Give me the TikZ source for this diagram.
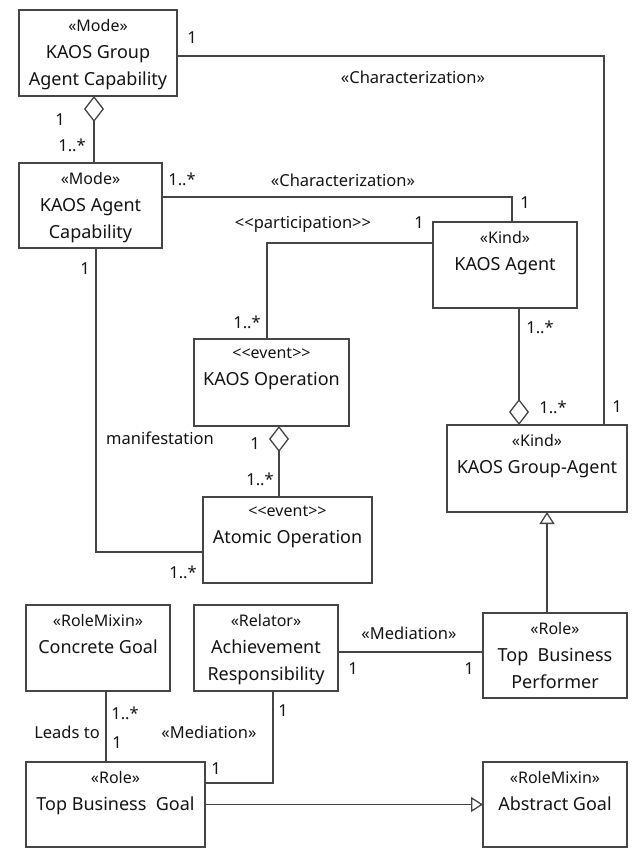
\documentclass[tikz,border=0pt]{standalone}
\usepackage{fontspec}
\setmainfont{Noto Sans}
\usetikzlibrary{arrows.meta}
\definecolor{ink}{HTML}{141414}
\definecolor{wire}{HTML}{454545}
\newcommand{\stereo}[1]{{\fontsize{16}{27}\selectfont #1}}

\begin{document}
\begin{tikzpicture}[x=1pt,y=-1pt,
  cls/.style={draw=wire, line width=1.3pt, fill=white, inner sep=0pt, outer sep=0pt},
  txt/.style={anchor=north, align=center, inner sep=0pt, text=ink, font=\fontsize{18}{27}\selectfont},
  lbl/.style={inner sep=0pt, text=ink, font=\fontsize{16.5}{19}\selectfont},
  wireline/.style={draw=wire, line width=1.3pt},
  aggstart/.style={arrows={Diamond[open, length=26pt, width=20pt]-}},
  aggend/.style={arrows={-Diamond[open, length=26pt, width=20pt]}},
  gen/.style={arrows={-Triangle[open, length=12pt, width=15pt]}}
]
\useasboundingbox (0,0) rectangle (643,858);

% classes
\node[cls, minimum width=158pt, minimum height=86pt] (gac) at (98,53) {};
\node[cls, minimum width=143pt, minimum height=85pt] (ac) at (90.5,205.5) {};
\node[cls, minimum width=144pt, minimum height=86pt] (ka) at (505,265) {};
\node[cls, minimum width=155pt, minimum height=87pt] (ko) at (271.5,382.5) {};
\node[cls, minimum width=169pt, minimum height=86pt] (ao) at (287.5,540) {};
\node[cls, minimum width=180pt, minimum height=87pt] (kga) at (537,468.5) {};
\node[cls, minimum width=144pt, minimum height=85pt] (tbp) at (555,655.5) {};
\node[cls, minimum width=144pt, minimum height=86pt] (cg) at (98,648) {};
\node[cls, minimum width=144pt, minimum height=86pt] (ar) at (266,648) {};
\node[cls, minimum width=179pt, minimum height=85pt] (tbg) at (115.5,804.5) {};
\node[cls, minimum width=144pt, minimum height=85pt] (abg) at (555,804.5) {};

% class texts
\node[txt] (gacT) at ([yshift=-9pt]gac.north) {\stereo{«Mode»}\\KAOS Group\\Agent Capability};
\node[txt] (acT) at ([yshift=-9pt]ac.north) {\stereo{«Mode»}\\KAOS Agent\\Capability};
\node[txt] (kaT) at ([yshift=-9pt]ka.north) {\stereo{«Kind»}\\KAOS Agent};
\node[txt] (koT) at ([yshift=-9pt]ko.north) {\stereo{<\kern0pt<event>\kern0pt>}\\KAOS Operation};
\node[txt] (aoT) at ([yshift=-9pt]ao.north) {\stereo{<\kern0pt<event>\kern0pt>}\\Atomic Operation};
\node[txt] (kgaT) at ([yshift=-9pt]kga.north) {\stereo{«Kind»}\\KAOS Group-Agent};
\node[txt] (tbpT) at ([yshift=-9pt]tbp.north) {\stereo{«Role»}\\Top~~Business\\Performer};
\node[txt] (cgT) at ([yshift=-9pt]cg.north) {\stereo{«RoleMixin»}\\Concrete Goal};
\node[txt] (arT) at ([yshift=-9pt]ar.north) {\stereo{«Relator»}\\Achievement\\Responsibility};
\node[txt] (tbgT) at ([yshift=-9pt]tbg.north) {\stereo{«Role»}\\Top Business~~Goal};
\node[txt] (abgT) at ([yshift=-9pt]abg.north) {\stereo{«RoleMixin»}\\Abstract Goal};

% connectors
\draw[wireline] ([yshift=-3pt]gac.east) -| ([xshift=67pt]kga.north);
\draw[wireline, aggstart] ([xshift=-4pt]gac.south) -- ([xshift=-4pt]gac.south |- ac.north);
\draw[wireline] ([yshift=8.5pt]ac.east) -| ([xshift=7pt]ka.north);
\draw[wireline] ([yshift=22pt]ka.west) -| ([xshift=-4.5pt]ko.north);
\draw[wireline, aggstart] ([xshift=7.5pt]ko.south) -- ([xshift=7.5pt]ko.south |- ao.north);
\draw[wireline] ([xshift=5.5pt]ac.south) |- ([yshift=-12pt]ao.west);
\draw[wireline, aggend] ([xshift=14pt]ka.south) -- ([xshift=14pt]ka.south |- kga.north);
\draw[wireline, gen] ([xshift=-8pt]tbp.north) -- ([xshift=-8pt]tbp.north |- kga.south);
\draw[wireline] ([yshift=-4pt]ar.east) -- ([yshift=-4pt]ar.east -| tbp.west);
\draw[wireline] ([xshift=8pt]cg.south) -- ([xshift=8pt]cg.south |- tbg.north);
\draw[wireline] ([xshift=7pt]ar.south) |- ([yshift=21.5pt]tbg.east);
\draw[wireline, gen] (tbg.east) -- (abg.west);

% connector labels
\node[lbl] (l1) at (192,38) {1};
\node[lbl] (l2) at (413,77) {«Characterization»};
\node[lbl] (l3) at (60,120) {1};
\node[lbl] (l4) at (72,145) {1..*};
\node[lbl] (l5) at (182,179) {1..*};
\node[lbl] (l6) at (343,180) {«Characterization»};
\node[lbl] (l7) at (525,203) {1};
\node[lbl] (l8) at (303,224) {<\kern0pt<participation>\kern0pt>};
\node[lbl] (l9) at (419,223) {1};
\node[lbl] (l10) at (85,269) {1};
\node[lbl] (l11) at (247,322) {1..*};
\node[lbl] (l12) at (160,438) {manifestation};
\node[lbl] (l13) at (255,444) {1};
\node[lbl] (l14) at (260,479) {1..*};
\node[lbl] (l15) at (183,572) {1..*};
\node[lbl] (l16) at (540,327) {1..*};
\node[lbl] (l17) at (553,407) {1..*};
\node[lbl] (l18) at (617,407) {1};
\node[lbl] (l19) at (409,633) {«Mediation»};
\node[lbl] (l20) at (353,669) {1};
\node[lbl] (l21) at (469,669) {1};
\node[lbl] (l22) at (125,713) {1..*};
\node[lbl] (l23) at (67,732) {Leads to};
\node[lbl] (l24) at (117,743) {1};
\node[lbl] (l25) at (209,732) {«Mediation»};
\node[lbl] (l26) at (283,711) {1};
\node[lbl] (l27) at (216,769) {1};
\end{tikzpicture}
\end{document}
